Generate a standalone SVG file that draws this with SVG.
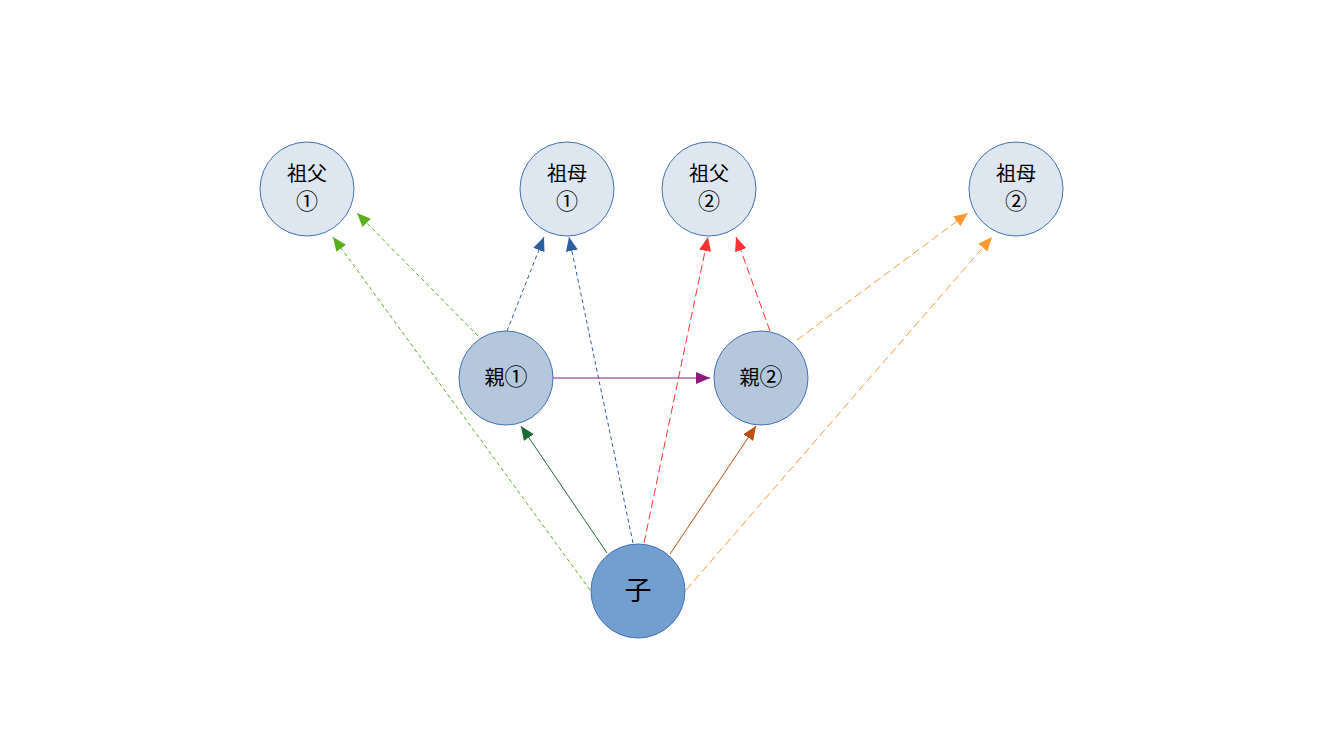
<svg xmlns="http://www.w3.org/2000/svg" width="1323" height="744" viewBox="0 0 1323 744">
  <style>
    .node circle { stroke: #4472B4; stroke-width: 1; }
    .gp circle { fill: #DEE6F0; }
    .pa circle { fill: #B4C7DD; }
    .ch circle { fill: #729FCF; }
    text { font-family: "Noto Sans CJK JP", "Noto Sans CJK SC", sans-serif; fill: #000; text-anchor: middle; }
    .t20 { font-size: 20px; }
    .num { font-size: 22px; }
    .pnum { font-size: 23px; }
    .t26 { font-size: 27px; }
    .conn line { fill: none; stroke-width: 1; }
    .dash-s { stroke-dasharray: 4 3; }
    .dash-l { stroke-dasharray: 8 4; }
  </style>
  <defs>
    <marker id="m-lgreen" markerUnits="userSpaceOnUse" markerWidth="14" markerHeight="12" refX="14" refY="6" orient="auto"><path d="M0,0 L14,6 L0,12 z" fill="#5BAE1F"/></marker>
    <marker id="m-blue" markerUnits="userSpaceOnUse" markerWidth="14" markerHeight="12" refX="14" refY="6" orient="auto"><path d="M0,0 L14,6 L0,12 z" fill="#2E5FA0"/></marker>
    <marker id="m-red" markerUnits="userSpaceOnUse" markerWidth="14" markerHeight="12" refX="14" refY="6" orient="auto"><path d="M0,0 L14,6 L0,12 z" fill="#FF3333"/></marker>
    <marker id="m-orange" markerUnits="userSpaceOnUse" markerWidth="14" markerHeight="12" refX="14" refY="6" orient="auto"><path d="M0,0 L14,6 L0,12 z" fill="#FF9933"/></marker>
    <marker id="m-purple" markerUnits="userSpaceOnUse" markerWidth="14" markerHeight="12" refX="14" refY="6" orient="auto"><path d="M0,0 L14,6 L0,12 z" fill="#8B1A7E"/></marker>
    <marker id="m-dgreen" markerUnits="userSpaceOnUse" markerWidth="14" markerHeight="12" refX="14" refY="6" orient="auto"><path d="M0,0 L14,6 L0,12 z" fill="#1E6B3A"/></marker>
    <marker id="m-brown" markerUnits="userSpaceOnUse" markerWidth="14" markerHeight="12" refX="14" refY="6" orient="auto"><path d="M0,0 L14,6 L0,12 z" fill="#C0500F"/></marker>
  </defs>

  <rect width="1323" height="744" fill="#FFFFFF"/>

  <g id="connectors" class="conn">
    <!-- grandparents of parent 1 -->
    <line x1="478" y1="336" x2="357" y2="213" stroke="#5BAE1F" class="dash-s" marker-end="url(#m-lgreen)"/>
    <line x1="590" y1="590" x2="333" y2="237" stroke="#5BAE1F" class="dash-s" marker-end="url(#m-lgreen)"/>
    <line x1="507" y1="331" x2="544" y2="237" stroke="#2E5FA0" class="dash-s" marker-end="url(#m-blue)"/>
    <line x1="633" y1="543" x2="569" y2="237" stroke="#2E5FA0" class="dash-s" marker-end="url(#m-blue)"/>
    <!-- grandparents of parent 2 -->
    <line x1="644" y1="543" x2="708" y2="237" stroke="#FF3333" class="dash-l" marker-end="url(#m-red)"/>
    <line x1="770" y1="331" x2="736" y2="237" stroke="#FF3333" class="dash-l" marker-end="url(#m-red)"/>
    <line x1="797" y1="340" x2="968" y2="213" stroke="#FF9933" class="dash-l" marker-end="url(#m-orange)"/>
    <line x1="686" y1="590" x2="992" y2="237" stroke="#FF9933" class="dash-l" marker-end="url(#m-orange)"/>
    <!-- parents -->
    <line x1="553" y1="378" x2="710" y2="378" stroke="#8B1A7E" marker-end="url(#m-purple)"/>
    <line x1="607" y1="553" x2="521" y2="426" stroke="#1E6B3A" marker-end="url(#m-dgreen)"/>
    <line x1="670" y1="554" x2="756" y2="426" stroke="#C0500F" marker-end="url(#m-brown)"/>
  </g>

  <g id="grandfather1" class="node gp">
    <circle cx="307" cy="189" r="47"/>
    <text class="t20"><tspan x="307" y="181">祖父</tspan><tspan class="num" x="307" dy="28">①</tspan></text>
  </g>
  <g id="grandmother1" class="node gp">
    <circle cx="567" cy="189" r="47"/>
    <text class="t20"><tspan x="567" y="181">祖母</tspan><tspan class="num" x="567" dy="28">①</tspan></text>
  </g>
  <g id="grandfather2" class="node gp">
    <circle cx="709" cy="189" r="47"/>
    <text class="t20"><tspan x="709" y="181">祖父</tspan><tspan class="num" x="709" dy="28">②</tspan></text>
  </g>
  <g id="grandmother2" class="node gp">
    <circle cx="1016" cy="189" r="47"/>
    <text class="t20"><tspan x="1016" y="181">祖母</tspan><tspan class="num" x="1016" dy="28">②</tspan></text>
  </g>
  <g id="parent1" class="node pa">
    <circle cx="506" cy="378" r="47"/>
    <text class="t20" x="506" y="385">親<tspan class="pnum">①</tspan></text>
  </g>
  <g id="parent2" class="node pa">
    <circle cx="761" cy="378" r="47"/>
    <text class="t20" x="761" y="385">親<tspan class="pnum">②</tspan></text>
  </g>
  <g id="child" class="node ch">
    <circle cx="638" cy="591" r="47"/>
    <text class="t26" x="638" y="600">子</text>
  </g>
</svg>
